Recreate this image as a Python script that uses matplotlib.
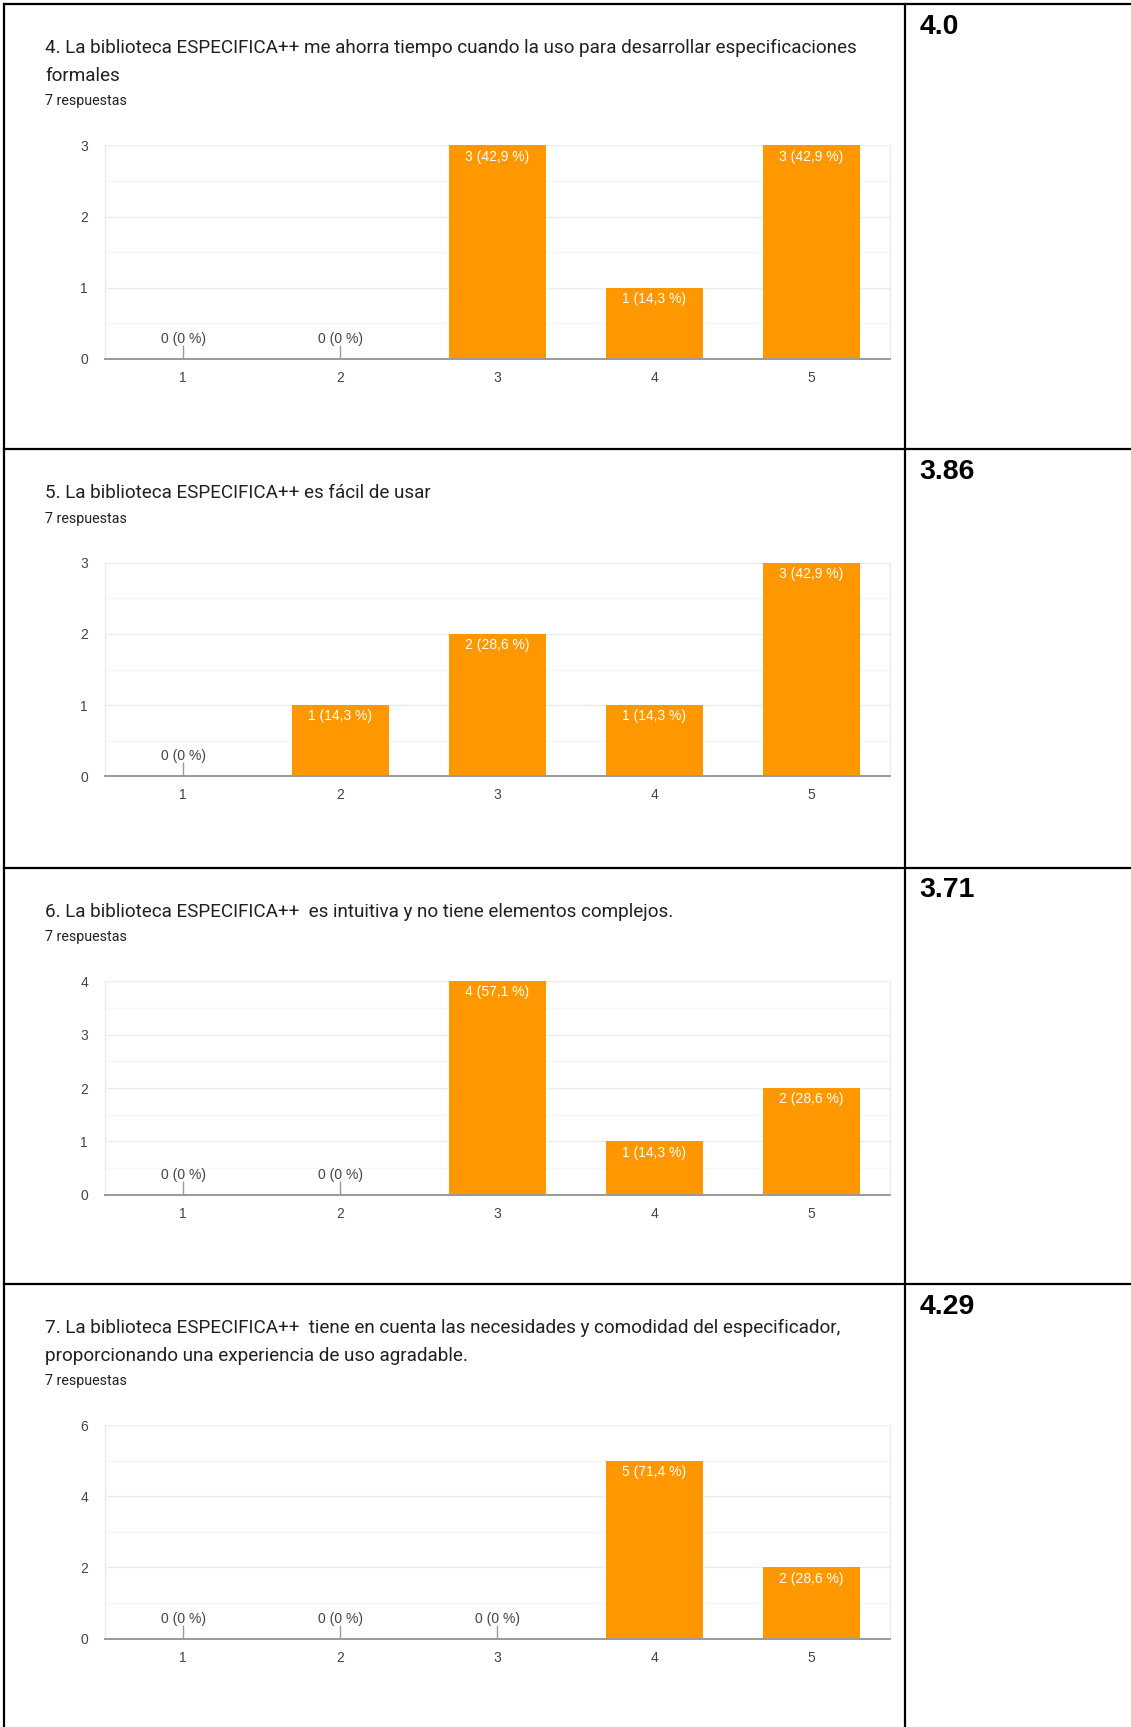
import numpy as np
import matplotlib
matplotlib.use("Agg")
import matplotlib.pyplot as plt
from matplotlib.lines import Line2D

# ---- data ----
categories = [1, 2, 3, 4, 5]
n_responses = 7
responses_label = "7 respuestas"

titles = [
    ["4. La biblioteca ESPECIFICA++ me ahorra tiempo cuando la uso para desarrollar especificaciones",
     "formales"],
    ["5. La biblioteca ESPECIFICA++ es fácil de usar"],
    ["6. La biblioteca ESPECIFICA++  es intuitiva y no tiene elementos complejos."],
    ["7. La biblioteca ESPECIFICA++  tiene en cuenta las necesidades y comodidad del especificador,",
     "proporcionando una experiencia de uso agradable."],
]
counts_q4 = [0, 0, 3, 1, 3]
counts_q5 = [0, 1, 2, 1, 3]
counts_q6 = [0, 0, 4, 1, 2]
counts_q7 = [0, 0, 0, 5, 2]
all_counts = [counts_q4, counts_q5, counts_q6, counts_q7]
means = ["4.0", "3.86", "3.71", "4.29"]
y_max = [3, 3, 4, 6]
y_step = [1, 1, 1, 2]

# ---- layout (pixels, top-left origin) ----
W, H = 1131, 1727
row_tops = [4.4, 449.3, 867.8, 1284.1]
divider_x = 905
border_x = 4
plot_left, plot_right = 104.6, 889.9
plot_h = 213.6
line_gap = 27.6

ORANGE = "#ff9800"
TITLE_C = "#202124"
TICK_C = "#444444"

fig = plt.figure(figsize=(W / 100, H / 100), dpi=100)


def fy(y):
    return 1 - y / H


def label_for(c):
    pct = c / n_responses * 100
    if c == 0:
        return "0 (0 %)"
    return "%d (%s %%)" % (c, ("%.1f" % pct).replace(".", ","))


for i, top in enumerate(row_tops):
    lines = titles[i]
    # question title
    for k, t in enumerate(lines):
        fig.text(45 / W, fy(top + 49 + k * line_gap), t, fontsize=13.6,
                 family="Roboto", color=TITLE_C, va="baseline", ha="left")
    extra = line_gap * (len(lines) - 1)
    fig.text(45 / W, fy(top + 73.5 + extra), responses_label, fontsize=10.3,
             family="Roboto", color=TITLE_C, va="baseline", ha="left")
    # mean value in right column
    fig.text(919.5 / W, fy(top + 29.5), means[i], fontsize=20.5,
             family="Liberation Sans", weight="bold", color="black",
             va="baseline", ha="left")

    # chart
    ptop = top + 113.4 + extra
    ax = fig.add_axes([plot_left / W, fy(ptop + plot_h),
                       (plot_right - plot_left) / W, plot_h / H])
    counts = all_counts[i]
    ymax = y_max[i]
    step = y_step[i]
    ax.bar(categories, counts, width=0.62, color=ORANGE, zorder=3)
    ax.set_xlim(0.5, 5.5)
    ax.set_ylim(0, ymax)
    ax.set_xticks(categories)
    ax.set_yticks(np.arange(0, ymax + 0.01, step))
    ax.set_yticks(np.arange(step / 2, ymax, step), minor=True)
    ax.grid(True, axis="y", which="major", color="#ebebeb", lw=1, zorder=0)
    ax.grid(True, axis="y", which="minor", color="#f5f5f5", lw=1, zorder=0)
    ax.tick_params(axis="both", which="both", length=0, labelsize=10,
                   labelcolor=TICK_C)
    ax.tick_params(axis="y", pad=12)
    ax.tick_params(axis="x", pad=8.5)
    for lab in ax.get_xticklabels() + ax.get_yticklabels():
        lab.set_family("Liberation Sans")
    ax.spines["top"].set_visible(False)
    for s in ("left", "right"):
        ax.spines[s].set_color("#ebebeb")
        ax.spines[s].set_linewidth(1)
    ax.spines["bottom"].set_color("#9a9a9a")
    ax.spines["bottom"].set_linewidth(1.4)
    ax.spines["bottom"].set_zorder(4)

    tick_h = ymax * 14 / plot_h
    for x, c in zip(categories, counts):
        if c == 0:
            ax.vlines(x, 0, tick_h, color="#9a9a9a", lw=1, zorder=4)
            ax.annotate(label_for(c), (x, 0), xytext=(0, 14.5),
                        textcoords="offset points", ha="center", va="center",
                        fontsize=10, family="Liberation Sans", color=TICK_C)
        else:
            ax.annotate(label_for(c), (x, c), xytext=(0, -8),
                        textcoords="offset points", ha="center", va="center",
                        fontsize=10, family="Liberation Sans", color="white",
                        zorder=5)

# ---- table lines ----
lw = 1.6
for top in row_tops:
    fig.add_artist(Line2D([border_x / W, 1], [fy(top), fy(top)],
                          transform=fig.transFigure, color="black", lw=lw))
for x in (border_x, divider_x):
    fig.add_artist(Line2D([x / W, x / W], [fy(row_tops[0]), 0],
                          transform=fig.transFigure, color="black", lw=lw))

fig.savefig("out.png", dpi=100, facecolor="white")
